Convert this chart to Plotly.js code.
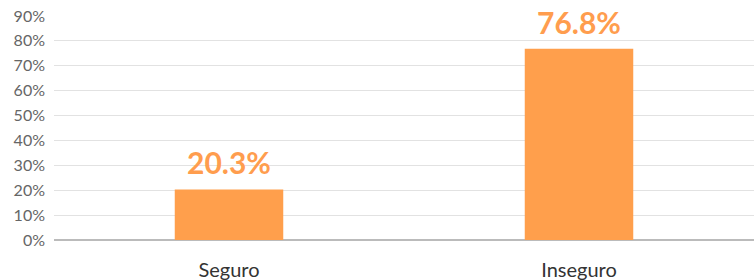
<!DOCTYPE html>
<html><head><meta charset="utf-8">
<script src="https://cdn.plot.ly/plotly-3.0.1.min.js"></script>
<style>html,body{margin:0;padding:0;background:#fff}</style>
</head><body><div id="chart" style="width:754px;height:280px"></div>
<script>
const categories = ["Seguro", "Inseguro"];
const values = [20.3, 76.8];
const labels = ["20.3%", "76.8%"];
const yTicks = [0,10,20,30,40,50,60,70,80,90];
const yTickText = ["0%","10%","20%","30%","40%","50%","60%","70%","80%","90%"];

const annotations = categories.map((c, i) => ({
  x: c, y: values[i], text: labels[i], showarrow: false,
  xanchor: "center", yanchor: "bottom", yshift: 7,
  font: {family: "Lato, sans-serif", size: 30, color: "#FF9D4E", weight: 700}
}));

Plotly.newPlot("chart", [{
  type: "bar", x: categories, y: values,
  marker: {color: "#FF9F4C"}, hoverinfo: "none"
}], {
  width: 754, height: 280,
  margin: {l: 54, r: 0, t: 16, b: 40},
  paper_bgcolor: "#fff", plot_bgcolor: "#fff",
  bargap: 0.69,
  showlegend: false,
  annotations: annotations,
  xaxis: {tickfont: {family: "Lato, sans-serif", size: 20, color: "#333"}, ticklabelstandoff: 16, showgrid: false, zeroline: false, showline: false},
  yaxis: {range: [0, 90], tickvals: yTicks, ticktext: yTickText,
    tickfont: {family: "Lato, sans-serif", size: 16, color: "#666"},
    gridcolor: "#e2e2e2", gridwidth: 1, zeroline: true, zerolinecolor: "#bbb", zerolinewidth: 2,
    ticklabelstandoff: 8, showline: false}
}, {displayModeBar: false, staticPlot: true});
</script></body></html>
